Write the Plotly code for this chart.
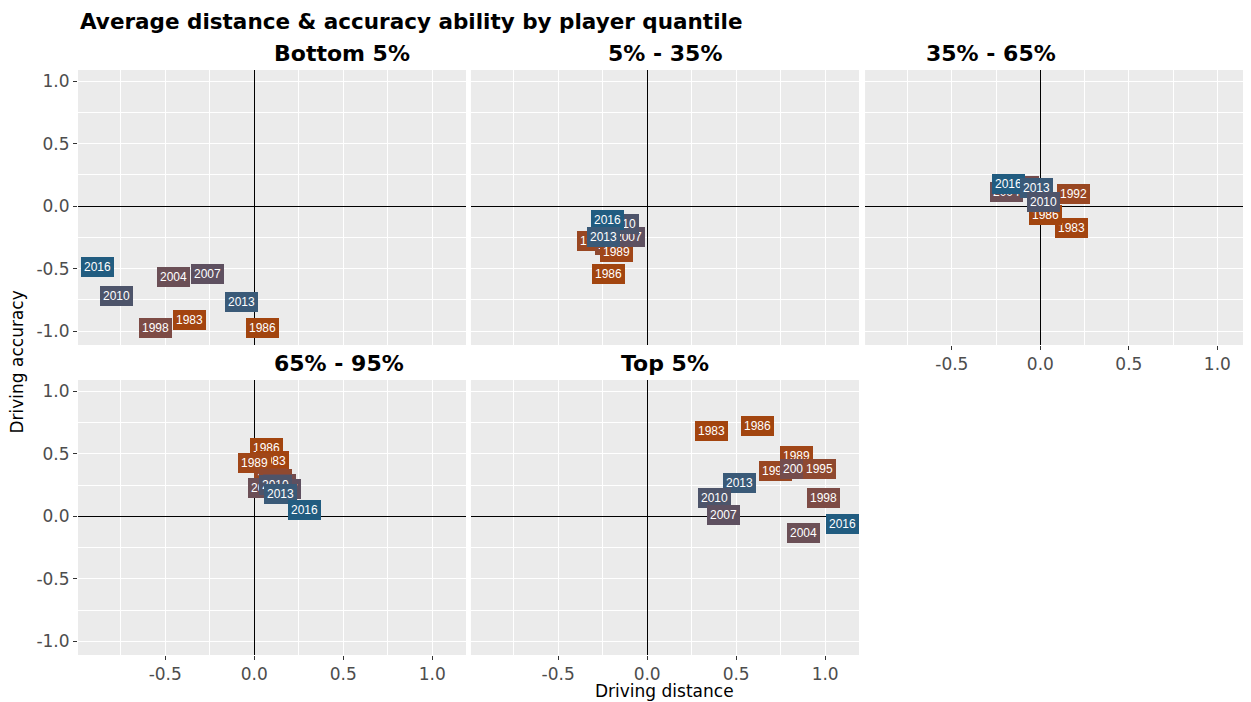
import plotly.graph_objects as go

TITLE = "Average distance & accuracy ability by player quantile"
PANELS = ["Bottom 5%", "5% - 35%", "35% - 65%", "65% - 95%", "Top 5%"]

YEAR_COLORS = {
    1983: "#A3440F", 1986: "#A2450F", 1989: "#A04618", 1992: "#994722",
    1995: "#8F4930", 1998: "#7D4B45", 2001: "#744C4D", 2004: "#6B4F56",
    2007: "#5E5060", 2010: "#4D546A", 2013: "#3A5A78", 2016: "#215C80",
}

# bottom 5%
p1_years = [1983, 1986, 1998, 2004, 2007, 2010, 2013, 2016]
p1_dist = [-0.365, 0.045, -0.556, -0.455, -0.264, -0.775, -0.073, -0.88]
p1_acc = [-0.91, -0.976, -0.976, -0.57, -0.545, -0.72, -0.77, -0.49]

# 5% - 35%
p2_years = [1986, 1992, 1995, 1989, 2007, 2010, 2016, 2013]
p2_dist = [-0.22, -0.30, -0.20, -0.17, -0.107, -0.14, -0.225, -0.247]
p2_acc = [-0.544, -0.28, -0.31, -0.37, -0.25, -0.145, -0.11, -0.25]

# 35% - 65%
p3_years = [1983, 1986, 1992, 2001, 2004, 2016, 2013, 2010]
p3_dist = [0.174, 0.03, 0.185, -0.10, -0.19, -0.18, -0.02, 0.017]
p3_acc = [-0.176, -0.07, 0.096, 0.16, 0.11, 0.176, 0.144, 0.03]

# 65% - 95%
p4_years = [1986, 1983, 1989, 1992, 1995, 2001, 2007, 2004, 2010, 2013, 2016]
p4_dist = [0.067, 0.10, 0.0, 0.09, 0.12, 0.14, 0.17, 0.056, 0.12, 0.15, 0.28]
p4_acc = [0.544, 0.44, 0.424, 0.31, 0.30, 0.26, 0.22, 0.23, 0.25, 0.176, 0.048]

# top 5%
p5_years = [1983, 1986, 1989, 1992, 2001, 1995, 1998, 2013, 2010, 2007, 2004, 2016]
p5_dist = [0.36, 0.62, 0.84, 0.72, 0.84, 0.97, 0.99, 0.52, 0.38, 0.43, 0.88, 1.10]
p5_acc = [0.68, 0.72, 0.48, 0.36, 0.376, 0.376, 0.15, 0.27, 0.15, 0.01, -0.13, -0.06]

X_TICKS = [-0.5, 0.0, 0.5, 1.0]
Y_TICKS = [-1.0, -0.5, 0.0, 0.5, 1.0]
X_RANGE = [-0.99, 1.19]
Y_RANGE = [-1.11, 1.09]

data = [
    (p1_years, p1_dist, p1_acc),
    (p2_years, p2_dist, p2_acc),
    (p3_years, p3_dist, p3_acc),
    (p4_years, p4_dist, p4_acc),
    (p5_years, p5_dist, p5_acc),
]

FONT = "DejaVu Sans"
W, H = 1243, 694  # page body adds an 8px offset
x_domains = [[0.0, 0.3308], [0.335, 0.6658], [0.671, 1.0]]
y_domains = [[0.53, 1.0], [0.0, 0.47]]
MINOR = [-0.75, -0.25, 0.25, 0.75]

fig = go.Figure()
annotations = []

for i, (name, (years, xs, ys)) in enumerate(zip(PANELS, data)):
    row, col = divmod(i, 3)
    n = i + 1
    xa = "x" if n == 1 else f"x{n}"
    ya = "y" if n == 1 else f"y{n}"
    fig.add_trace(
        go.Scatter(
            x=xs, y=ys, mode="markers", xaxis=xa, yaxis=ya,
            marker=dict(opacity=0), text=[str(y) for y in years],
            hovertemplate="%{text}<br>Distance: %{x:.2f}<br>Accuracy: %{y:.2f}<extra></extra>",
            showlegend=False,
        )
    )
    for yr, xv, yv in zip(years, xs, ys):
        annotations.append(
            dict(
                x=xv, y=yv, xref=xa, yref=ya, text=str(yr), showarrow=False,
                font=dict(family="Liberation Sans", size=12, color="white"),
                bgcolor=YEAR_COLORS[yr], bordercolor=YEAR_COLORS[yr],
                borderwidth=1, borderpad=2,
            )
        )
    # strip title
    annotations.append(
        dict(
            x=sum(x_domains[col]) / 2, y=y_domains[row][1], xref="paper", yref="paper",
            yanchor="bottom", yshift=2, text=f"<b>{name}</b>", showarrow=False,
            font=dict(family=FONT, size=22, color="black"),
        )
    )
    show_x = row == 1 or n == 3
    show_y = col == 0
    axis_common = dict(
        showgrid=True, gridcolor="white", gridwidth=1.3,
        zeroline=True, zerolinecolor="black", zerolinewidth=1,
        ticks="outside", tickcolor="#333333",
        tickfont=dict(family=FONT, size=17, color="#4D4D4D"),
        showline=False,
    )
    fig.layout[f"xaxis{'' if n == 1 else n}"] = dict(
        axis_common, domain=x_domains[col], anchor=ya, range=X_RANGE,
        tickvals=X_TICKS, ticktext=[f"{v:.1f}" for v in X_TICKS],
        showticklabels=show_x, ticklen=4 if show_x else 0,
        minor=dict(showgrid=True, gridcolor="white", gridwidth=0.5, tickvals=MINOR),
    )
    fig.layout[f"yaxis{'' if n == 1 else n}"] = dict(
        axis_common, domain=y_domains[row], anchor=xa, range=Y_RANGE,
        tickvals=Y_TICKS, ticktext=[f"{v:.1f}" for v in Y_TICKS],
        showticklabels=show_y, ticklen=4 if show_y else 0,
        minor=dict(showgrid=True, gridcolor="white", gridwidth=0.5, tickvals=MINOR),
    )

annotations += [
    dict(x=0.5, y=0, xref="paper", yref="paper", yanchor="top", yshift=-24,
         text="Driving distance", showarrow=False,
         font=dict(family=FONT, size=17, color="black")),
    dict(x=0, y=0.5, xref="paper", yref="paper", xanchor="right", xshift=-50,
         text="Driving accuracy", textangle=-90, showarrow=False,
         font=dict(family=FONT, size=17, color="black")),
]

fig.update_layout(
    width=W, height=H,
    margin=dict(l=70, r=0, t=62, b=47),
    plot_bgcolor="#EBEBEB", paper_bgcolor="white",
    title=dict(text=f"<b>{TITLE}</b>", x=72 / W, xanchor="left", y=1 - 13 / H, yanchor="middle",
               font=dict(family=FONT, size=21.5, color="black")),
    annotations=annotations,
    showlegend=False,
)

fig.write_html("out.html")
